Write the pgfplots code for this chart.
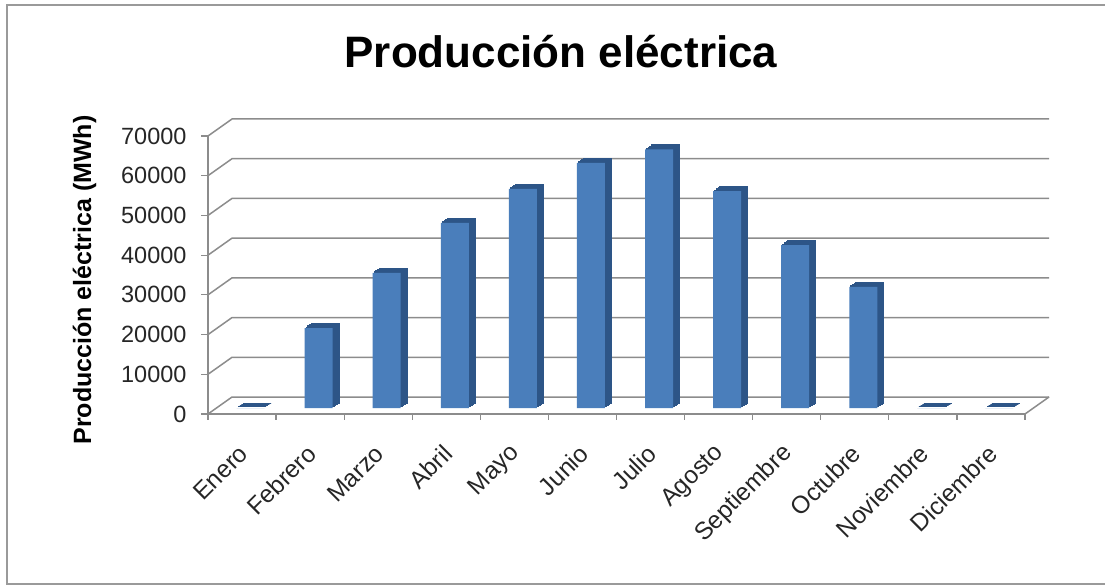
\documentclass[border=0pt]{standalone}
\usepackage{pgfplots}
\usepackage{pgfplotstable}
\pgfplotsset{compat=1.18}
\usepackage{fontspec}
\setmainfont{Liberation Sans}
\definecolor{barfront}{HTML}{4A7EBB}
\definecolor{barside}{HTML}{2D5587}
\definecolor{gridc}{HTML}{8C8C8C}
\definecolor{framec}{HTML}{9A9A9A}

\pgfplotstableread{
m v
0 0
1 20100
2 34000
3 46600
4 55200
5 61700
6 65100
7 54600
8 41000
9 30500
10 0
11 0
}\proddata

\begin{document}
\begin{tikzpicture}
\begin{scope}[x=1pt,y=1pt]
\useasboundingbox (0,0) rectangle (1105,587);
\draw[framec, line width=2] (7,3) rectangle (1108,582);
% back wall and left wall grid
\foreach \k in {0,...,7}{
  \draw[gridc, line width=1.5] (208,173+39.714*\k) -- (232,190+39.714*\k) -- (1049,190+39.714*\k);
}
\draw[gridc, line width=1.5] (1025,173) -- (1049,190);
% x tick marks at category boundaries
\foreach \k in {0,...,12}{
  \draw[gridc, line width=1.2] (208+68.083*\k,173) -- (208+68.083*\k,167);
}
% title and y label
\node[anchor=base, font=\fontsize{44}{50}\selectfont\bfseries] at (561,519) {Producción eléctrica};
\node[rotate=90, anchor=base, font=\fontsize{25}{30}\selectfont\bfseries] at (91,307) {Producción eléctrica (MWh)};
\end{scope}
\pgfplotsset{bar3d/.style={ybar, bar width=28pt, bar shift=0pt}}
\begin{axis}[
  at={(208pt,173pt)}, anchor=south west, scale only axis,
  width=817pt, height=278pt,
  xmin=-0.5, xmax=11.5, ymin=0, ymax=70000,
  clip=false,
  axis lines*=left,
  axis line style={gridc, line width=1.5pt},
  ytick={0,10000,...,70000},
  xtick={0,...,11},
  xticklabels={Enero,Febrero,Marzo,Abril,Mayo,Junio,Julio,Agosto,Septiembre,Octubre,Noviembre,Diciembre},
  tick align=outside,
  major tick length=7pt,
  ytick style={gridc, line width=1.2pt},
  xtick style={draw=none},
  scaled y ticks=false,
  /pgf/number format/1000 sep={},
  /pgf/number format/assume math mode=true,
  yticklabel style={font=\fontsize{23.5}{27}\selectfont, text=black!85, xshift=-11pt},
  xticklabel style={font=\fontsize{24.5}{28}\selectfont, text=black!85, yshift=-26pt, xshift=4pt, rotate=45, anchor=east},
]
\addplot[bar3d, fill=barside, draw=barside, line width=1pt, xshift=15pt, yshift=10.6pt] table[x=m,y=v]{\proddata};
\addplot[bar3d, fill=barside, draw=barside, line width=1pt, xshift=13.4pt, yshift=9.45pt] table[x=m,y=v]{\proddata};
\addplot[bar3d, fill=barside, draw=barside, line width=1pt, xshift=11.75pt, yshift=8.3pt] table[x=m,y=v]{\proddata};
\addplot[bar3d, fill=barside, draw=barside, line width=1pt, xshift=10.1pt, yshift=7.15pt] table[x=m,y=v]{\proddata};
\addplot[bar3d, fill=barfront, draw=none, xshift=8.5pt, yshift=6pt] table[x=m,y=v]{\proddata};
\end{axis}
\end{tikzpicture}
\end{document}
